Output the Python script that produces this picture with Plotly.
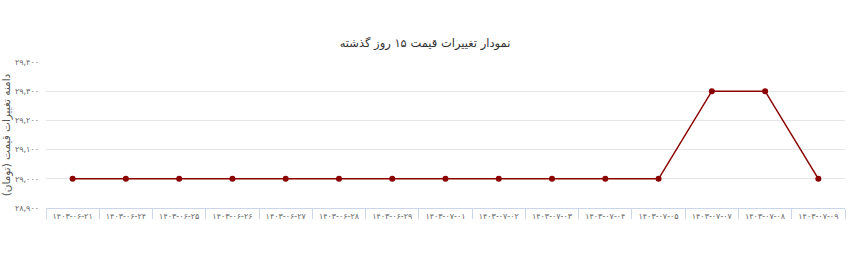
import plotly.graph_objects as go

categories = ["۱۴۰۳-۰۶-۲۱", "۱۴۰۳-۰۶-۲۴", "۱۴۰۳-۰۶-۲۵", "۱۴۰۳-۰۶-۲۶", "۱۴۰۳-۰۶-۲۷",
              "۱۴۰۳-۰۶-۲۸", "۱۴۰۳-۰۶-۲۹", "۱۴۰۳-۰۷-۰۱", "۱۴۰۳-۰۷-۰۲", "۱۴۰۳-۰۷-۰۳",
              "۱۴۰۳-۰۷-۰۴", "۱۴۰۳-۰۷-۰۵", "۱۴۰۳-۰۷-۰۷", "۱۴۰۳-۰۷-۰۸", "۱۴۰۳-۰۷-۰۹"]
prices = [29000, 29000, 29000, 29000, 29000, 29000, 29000, 29000, 29000, 29000,
          29000, 29000, 29300, 29300, 29000]
y_tickvals = [28900, 29000, 29100, 29200, 29300, 29400]
y_ticktext = ["۲۸,۹۰۰", "۲۹,۰۰۰", "۲۹,۱۰۰", "۲۹,۲۰۰", "۲۹,۳۰۰", "۲۹,۴۰۰"]

title = "نمودار تغییرات قیمت ۱۵ روز گذشته"
y_title = "دامنه تغییرات قیمت (تومان)"

font = "DejaVu Sans, sans-serif"

fig = go.Figure(go.Scatter(
    x=categories, y=prices, mode="lines+markers",
    line=dict(color="#8b0000", width=1.5),
    marker=dict(color="#8b0000", size=6),
    hoverinfo="x+y",
))

fig.update_layout(
    width=850, height=268,
    margin=dict(l=46, r=5, t=62, b=60),
    paper_bgcolor="white", plot_bgcolor="white",
    title=dict(text=title, x=0.5, xanchor="center", y=1 - 43 / 268, yanchor="middle",
               font=dict(family=font, size=11.5, color="#333333")),
    showlegend=False,
    xaxis=dict(
        type="category",
        showgrid=False, automargin=False,
        showline=True, linecolor="#ccd6eb", linewidth=1,
        ticks="outside", tickson="boundaries", ticklen=10, tickcolor="#ccd6eb",
        tickfont=dict(family=font, size=8, color="#666666"),
        tickangle=0,
        range=[-0.5, len(categories) - 0.5],
    ),
    yaxis=dict(
        range=[28900, 29400], automargin=False,
        tickvals=y_tickvals, ticktext=y_ticktext,
        showgrid=True, gridcolor="#e6e6e6", gridwidth=1,
        zeroline=False, showline=False,
        ticklabelstandoff=6,
        tickfont=dict(family=font, size=8, color="#666666"),
        title=dict(text=y_title, font=dict(family=font, size=10.5, color="#555555"), standoff=2),
    ),
)

fig.write_html("out.html")
